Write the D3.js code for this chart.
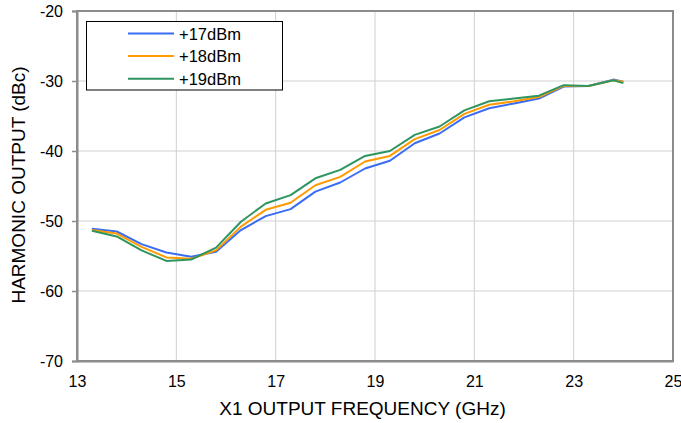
<!DOCTYPE html>
<html><head><meta charset="utf-8">
<script src="https://cdn.jsdelivr.net/npm/d3@7"></script>
<style>body{margin:0;background:#fff}svg{display:block}text{font-family:"Liberation Sans",Arial,sans-serif;fill:#000}</style>
</head><body><svg id="c" width="681" height="423"></svg>
<script>
const freq = [13.3,13.8,14.3,14.8,15.3,15.8,16.3,16.8,17.3,17.8,18.3,18.8,19.3,19.8,20.3,20.8,21.3,21.8,22.3,22.8,23.3,23.8,24.0];
const p17 = [-51.1,-51.5,-53.3,-54.5,-55.1,-54.4,-51.3,-49.3,-48.3,-45.8,-44.5,-42.5,-41.4,-38.9,-37.5,-35.2,-33.9,-33.2,-32.5,-30.8,-30.7,-29.8,-30.1];
const p18 = [-51.3,-51.8,-53.7,-55.2,-55.4,-54.2,-50.8,-48.4,-47.4,-44.9,-43.7,-41.5,-40.7,-38.3,-37.0,-34.7,-33.4,-32.9,-32.3,-30.7,-30.7,-29.9,-30.1];
const p19 = [-51.4,-52.2,-54.2,-55.7,-55.5,-53.8,-50.1,-47.5,-46.3,-43.9,-42.7,-40.7,-40.0,-37.7,-36.5,-34.2,-32.9,-32.5,-32.1,-30.6,-30.7,-29.9,-30.3];
const seriesNames = ["+17dBm","+18dBm","+19dBm"];
const seriesColors = ["#3a6cf4","#ff9a00","#2e9560"];
const xTicks = [13,15,17,19,21,23,25];
const yTicks = [-70,-60,-50,-40,-30,-20];

const svg = d3.select("#c");
const L=77,R=673,T=11,B=361;
const x = d3.scaleLinear().domain([13,25]).range([L,R]);
const y = d3.scaleLinear().domain([-70,-20]).range([B,T]);

// grid
svg.append("g").selectAll("line").data(xTicks.slice(1,-1)).join("line")
  .attr("x1",d=>x(d)).attr("x2",d=>x(d)).attr("y1",T).attr("y2",B)
  .attr("stroke","#d0d0d0").attr("stroke-width",1);
svg.append("g").selectAll("line").data(yTicks.slice(1,-1)).join("line")
  .attr("x1",L).attr("x2",R).attr("y1",d=>y(d)).attr("y2",d=>y(d))
  .attr("stroke","#d0d0d0").attr("stroke-width",1);

// frame
svg.append("rect").attr("x",L).attr("y",T).attr("width",R-L).attr("height",B-T)
  .attr("fill","none").attr("stroke","#8c8c8c").attr("stroke-width",2);

// axes
const fmt = d => String(d);
const yAx = svg.append("g").attr("transform",`translate(${L},0)`)
  .call(d3.axisLeft(y).tickValues(yTicks).tickSize(5).tickPadding(9).tickFormat(fmt));
yAx.select(".domain").attr("stroke","#8c8c8c").attr("stroke-width",2);
yAx.selectAll(".tick line").attr("stroke","#8c8c8c").attr("stroke-width",1.5);
yAx.selectAll("text").attr("font-size",16).style("font-family","Liberation Sans, Arial, sans-serif").attr("fill","#000");

const xAx = svg.append("g").attr("transform",`translate(0,${B})`)
  .call(d3.axisBottom(x).tickValues(xTicks).tickSize(0).tickPadding(15).tickFormat(fmt));
xAx.select(".domain").attr("stroke","#8c8c8c").attr("stroke-width",2);
xAx.selectAll("text").attr("font-size",16).style("font-family","Liberation Sans, Arial, sans-serif").attr("fill","#000");

// titles
svg.append("text").attr("x",362.5).attr("y",415).attr("text-anchor","middle")
  .attr("font-size",19).text("X1 OUTPUT FREQUENCY (GHz)");
svg.append("text").attr("transform","translate(25,185) rotate(-90)").attr("text-anchor","middle")
  .attr("font-size",19).text("HARMONIC OUTPUT (dBc)");

// lines
const all = [p17,p18,p19];
const line = d3.line().x((d,i)=>x(freq[i])).y(d=>y(d));
all.forEach((s,k)=>{
  svg.append("path").datum(s).attr("d",line).attr("fill","none")
    .attr("stroke",seriesColors[k]).attr("stroke-width",2).attr("stroke-linejoin","round");
});

// legend
const lg = svg.append("g");
lg.append("rect").attr("x",86.5).attr("y",21.5).attr("width",196).attr("height",68.5)
  .attr("fill","#fff").attr("stroke","#000").attr("stroke-width",1);
seriesNames.forEach((n,k)=>{
  const yy = 33.5 + k*22.6;
  lg.append("line").attr("x1",128).attr("x2",174).attr("y1",yy).attr("y2",yy)
    .attr("stroke",seriesColors[k]).attr("stroke-width",2);
  lg.append("text").attr("x",179).attr("y",yy+6).attr("font-size",16.5).text(n);
});
</script></body></html>
